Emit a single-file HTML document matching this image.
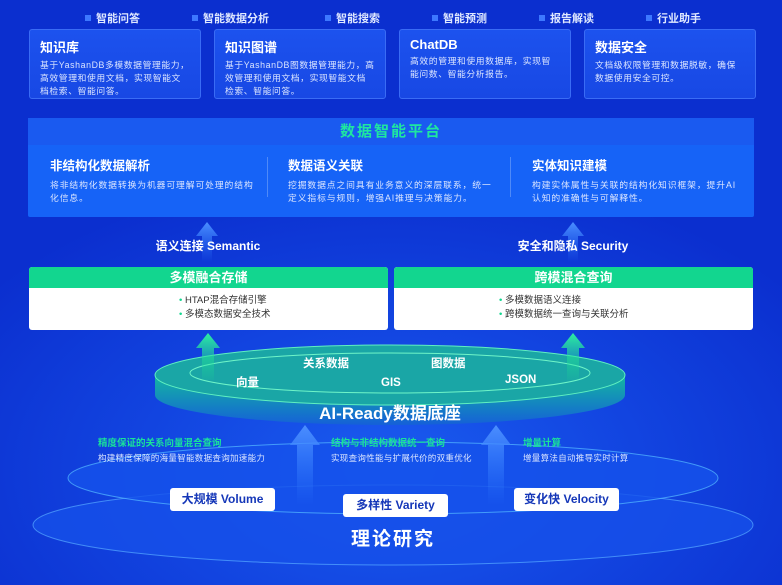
<!DOCTYPE html>
<html><head><meta charset="utf-8"><style>
*{margin:0;padding:0;box-sizing:border-box}
body{width:782px;height:585px;overflow:hidden;font-family:"Liberation Sans","Noto Sans CJK SC",sans-serif;position:relative;
background:radial-gradient(ellipse 500px 300px at 390px 470px,#1a5cf0 0%,#1244e0 50%,#0b2fcf 100%);color:#fff}
.a{position:absolute;white-space:nowrap}
.tl{font-size:11px;font-weight:bold;color:#dfe8ff}
.tl:before{content:"";display:inline-block;width:6px;height:6px;background:#3d78ff;margin-right:5px;vertical-align:1px}
.card{position:absolute;top:29px;width:172px;height:70px;background:linear-gradient(#1c52ee,#1848e4);border:1px solid #3a6cf5;border-radius:3px;padding:7px 10px}
.card h3{font-size:13px;margin-bottom:3px}
.card p{font-size:8.8px;line-height:13px;color:#dbe5ff;letter-spacing:0.6px}
.col h4{font-size:12.5px;margin-bottom:5px}
.col p{font-size:8.8px;line-height:13px;color:#dbe5ff;letter-spacing:0.9px}
.gbox{position:absolute;top:267px;height:63px;background:#fff;border-radius:3px;overflow:hidden}
.gbox .h{height:21px;background:#12d68f;color:#fff;font-weight:bold;font-size:13px;text-align:center;line-height:21px}
.gbox .b{color:#333;font-size:9.5px;line-height:14px;padding-top:6px}
.gbox .b span{color:#12d68f}
.rl{font-size:11.5px;font-weight:bold;color:#fff}
.gl{font-size:9.5px;font-weight:bold;color:#19e39a}
.dl{font-size:8.5px;color:#dbe5ff;letter-spacing:0.3px}
.badge{position:absolute;background:#fff;border-radius:3px;color:#1537b8;font-weight:bold;font-size:12px;text-align:center;line-height:23px;height:23px;width:105px}
</style></head><body>
<svg class="a" style="left:0;top:0" width="782" height="585">
<defs>
<linearGradient id="ga" x1="0" y1="1" x2="0" y2="0"><stop offset="0" stop-color="#2f7bff" stop-opacity="0"/><stop offset="1" stop-color="#4b8fff"/></linearGradient>
<linearGradient id="gg" x1="0" y1="1" x2="0" y2="0"><stop offset="0" stop-color="#18d890" stop-opacity="0.1"/><stop offset="1" stop-color="#2ef0a0"/></linearGradient>
<linearGradient id="disk" x1="0" y1="0" x2="0" y2="1"><stop offset="0" stop-color="#13b7a0"/><stop offset="1" stop-color="#1560d8"/></linearGradient>
</defs>
<ellipse cx="393" cy="525" rx="360" ry="40" fill="#1650ea" stroke="#4fa0ff" stroke-width="1" opacity="0.8"/>
<ellipse cx="393" cy="478" rx="325" ry="36" fill="#1552ec" stroke="#4fb0ff" stroke-width="1" opacity="0.8"/>
<path d="M155 375 L155 395 A235 30 0 0 0 625 395 L625 375 Z" fill="url(#disk)"/>
<ellipse cx="390" cy="375" rx="235" ry="30" fill="#1aa6a6" stroke="#5ff0c0"/>
<ellipse cx="390" cy="373" rx="200" ry="20" fill="none" stroke="#6ff5c8" stroke-width="1"/>
<path d="M207 222 L196 236 L202 236 L202 262 L212 262 L212 236 L218 236Z" fill="url(#ga)"/>
<path d="M573 222 L562 236 L568 236 L568 262 L578 262 L578 236 L584 236Z" fill="url(#ga)"/>
<path d="M208 333 L196 348 L202 348 L202 380 L214 380 L214 348 L220 348Z" fill="url(#gg)"/>
<path d="M573 333 L561 348 L567 348 L567 380 L579 380 L579 348 L585 348Z" fill="url(#gg)"/>
<path d="M305 425 L290 445 L297 445 L297 505 L313 505 L313 445 L320 445Z" fill="url(#ga)"/>
<path d="M496 425 L481 445 L488 445 L488 505 L504 505 L504 445 L511 445Z" fill="url(#ga)"/>
</svg>
<div class="a tl" style="left:85px;top:10px">智能问答</div>
<div class="a tl" style="left:192px;top:10px">智能数据分析</div>
<div class="a tl" style="left:325px;top:10px">智能搜索</div>
<div class="a tl" style="left:432px;top:10px">智能预测</div>
<div class="a tl" style="left:539px;top:10px">报告解读</div>
<div class="a tl" style="left:646px;top:10px">行业助手</div>
<div class="card" style="left:29px"><h3>知识库</h3><p>基于YashanDB多模数据管理能力，高效管理和使用文档，实现智能文档检索、智能问答。</p></div>
<div class="card" style="left:214px"><h3>知识图谱</h3><p>基于YashanDB图数据管理能力，高效管理和使用文档，实现智能文档检索、智能问答。</p></div>
<div class="card" style="left:399px"><h3>ChatDB</h3><p>高效的管理和使用数据库，实现智能问数、智能分析报告。</p></div>
<div class="card" style="left:584px"><h3>数据安全</h3><p>文档级权限管理和数据脱敏，确保数据使用安全可控。</p></div>
<div class="a" style="left:28px;top:118px;width:726px;height:99px;background:#1663f7;border-radius:2px"></div>
<div class="a" style="left:28px;top:118px;width:726px;height:27px;background:#1a5af0;text-align:center;font-size:15px;font-weight:bold;color:#1ee6a0;line-height:27px;letter-spacing:2px">数据智能平台</div>
<div class="a col" style="left:50px;top:155px;width:205px;white-space:normal"><h4>非结构化数据解析</h4><p>将非结构化数据转换为机器可理解可处理的结构化信息。</p></div>
<div class="a col" style="left:288px;top:155px;width:205px;white-space:normal"><h4>数据语义关联</h4><p>挖掘数据点之间具有业务意义的深层联系，统一定义指标与规则，增强AI推理与决策能力。</p></div>
<div class="a col" style="left:532px;top:155px;width:205px;white-space:normal"><h4>实体知识建模</h4><p>构建实体属性与关联的结构化知识框架，提升AI认知的准确性与可解释性。</p></div>
<div class="a" style="left:267px;top:157px;width:1px;height:40px;background:#4f8af8"></div>
<div class="a" style="left:510px;top:157px;width:1px;height:40px;background:#4f8af8"></div>
<div class="a" style="left:108px;top:237px;width:200px;text-align:center;font-size:12px;font-weight:bold">语义连接 Semantic</div>
<div class="a" style="left:473px;top:237px;width:200px;text-align:center;font-size:12px;font-weight:bold">安全和隐私 Security</div>
<div class="gbox" style="left:29px;width:359px"><div class="h">多模融合存储</div><div class="b" style="padding-left:150px"><span>•</span> HTAP混合存储引擎<br><span>•</span> 多模态数据安全技术</div></div>
<div class="gbox" style="left:394px;width:359px"><div class="h">跨模混合查询</div><div class="b" style="padding-left:105px"><span>•</span> 多模数据语义连接<br><span>•</span> 跨模数据统一查询与关联分析</div></div>
<div class="a rl" style="left:303px;top:355px">关系数据</div>
<div class="a rl" style="left:431px;top:355px">图数据</div>
<div class="a rl" style="left:236px;top:374px">向量</div>
<div class="a rl" style="left:381px;top:377px">GIS</div>
<div class="a rl" style="left:505px;top:374px">JSON</div>
<div class="a" style="left:190px;top:399px;width:400px;text-align:center;font-size:17px;font-weight:bold">AI-Ready数据底座</div>
<div class="a gl" style="left:98px;top:435px">精度保证的关系向量混合查询</div>
<div class="a dl" style="left:98px;top:452px">构建精度保障的海量智能数据查询加速能力</div>
<div class="a gl" style="left:331px;top:435px">结构与非结构数据统一查询</div>
<div class="a dl" style="left:331px;top:452px">实现查询性能与扩展代价的双重优化</div>
<div class="a gl" style="left:523px;top:435px">增量计算</div>
<div class="a dl" style="left:523px;top:452px">增量算法自动推导实时计算</div>
<div class="badge" style="left:170px;top:488px">大规模 Volume</div>
<div class="badge" style="left:343px;top:494px">多样性 Variety</div>
<div class="badge" style="left:514px;top:488px">变化快 Velocity</div>
<div class="a" style="left:293px;top:524px;width:200px;text-align:center;font-size:19px;font-weight:bold;letter-spacing:2px">理论研究</div>
</body></html>
